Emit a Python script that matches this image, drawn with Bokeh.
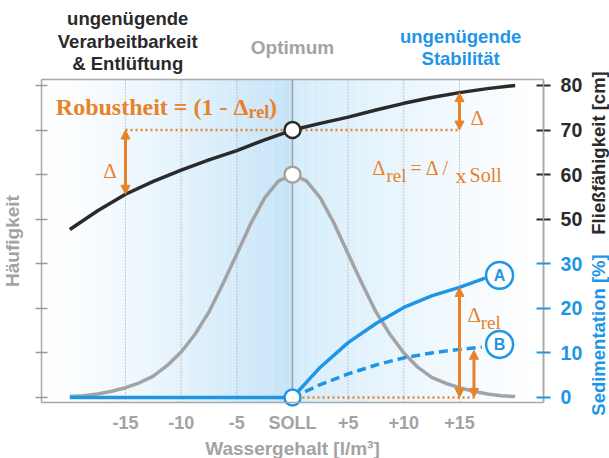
import math
from bokeh.plotting import figure
from bokeh.models import Range1d, LinearAxis, FixedTicker, Label, Arrow, NormalHead
from bokeh.embed import file_html
from bokeh.resources import INLINE

# ---------------- data ----------------
x_ticks = [-15, -10, -5, 0, 5, 10, 15]
x_tick_labels = ["-15", "-10", "-5", "SOLL", "+5", "+10", "+15"]
y_ticks = [0, 1, 2, 3, 4, 5, 6, 7]
sed_ticks = [0, 1, 2, 3]
sed_tick_labels = ["0", "10", "20", "30"]      # Sedimentation [%]
flow_ticks = [4, 5, 6, 7]
flow_tick_labels = ["50", "60", "70", "80"]    # Fließfähigkeit [cm]

# Fließfähigkeit [cm] vs. Wassergehalt
flow_x = [-20, -17.5, -15, -12.5, -10, -7.5, -5, -2.5, 0, 2.5, 5, 7.5, 10, 12.5, 15, 17.5, 20]
flow_cm = [47.7, 51.9, 55.6, 58.5, 61.0, 63.3, 65.4, 67.8, 70.0, 71.5, 72.9, 74.5, 76.0, 77.3, 78.4, 79.3, 80.0]

# Häufigkeit (relative, peak at the "60" level)
freq_x = [-20, -18.75, -17.5, -16.25, -15, -13.75, -12.5, -11.25, -10, -8.75, -7.5, -6.25, -5,
          -3.75, -2.5, -1.25, 0, 1.25, 2.5, 3.75, 5, 6.25, 7.5, 8.75, 10, 11.25, 12.5, 13.75,
          15, 16.25, 17.5, 18.75, 20]
freq = [0.02, 0.04, 0.08, 0.14, 0.22, 0.33, 0.48, 0.72, 1.02, 1.42, 1.92, 2.55, 3.22,
        3.90, 4.48, 4.86, 5.00, 4.86, 4.48, 3.90, 3.22, 2.55, 1.92, 1.42, 1.00, 0.68, 0.45, 0.32,
        0.22, 0.14, 0.08, 0.04, 0.02]

# Sedimentation [%]
base_x = [-20, 0]
base_sed = [0, 0]
sedA_x = [0, 2.5, 5, 7.5, 10, 12.5, 15, 17.3]
sedA = [0, 6.8, 12.3, 16.6, 20.2, 22.8, 24.7, 26.8]
sedB_x = [0, 2.5, 5, 7.5, 10, 12.5, 15, 17.0]
sedB = [0, 2.9, 5.3, 7.3, 8.9, 10.0, 10.8, 11.3]
markA = (18.6, 27.4)
markB = (18.6, 11.9)
arrowB = (16.3, 10.6)

# ---------------- styles ----------------
ORANGE = "#e8822a"
BLUE = "#1e96e6"
GRAY = "#a3a3a3"
FRAME = "#a8a8a8"
DARK = "#2a2a2a"
SANS = "Liberation Sans"
SERIF = "Liberation Serif"


def cm_y(v):
    return v / 10.0 - 1.0


def sed_y(v):
    return v / 10.0


# plot box (in data units) and canvas mapping
BX0, BX1 = -22.55, 22.55
BY0, BY1 = -0.112, 7.135
p = figure(width=609, height=458, x_range=Range1d(-26.228, 28.474), y_range=Range1d(-1.3686, 8.907),
           output_backend="svg", toolbar_location=None, min_border=0)
p.outline_line_color = None
p.background_fill_color = "white"
p.border_fill_color = "white"
p.xgrid.visible = False
p.ygrid.visible = False

# background gradient inside the plot box
N = 150
w = (BX1 - BX0) / N
lefts, rights, cols = [], [], []
for i in range(N):
    l = BX0 + i * w
    c = l + w / 2
    if c < 0:
        t = ((c - BX0) / (0 - BX0)) ** 1.3
        r1, g1, b1 = 196, 227, 248
    else:
        t = (1 - c / BX1) ** 1.2
        r1, g1, b1 = 212, 236, 251
    cols.append("#%02x%02x%02x" % (round(255 + (r1 - 255) * t), round(255 + (g1 - 255) * t),
                                   round(255 + (b1 - 255) * t)))
    lefts.append(l)
    rights.append(min(l + w * 1.05, BX1))
p.quad(left=lefts, right=rights, bottom=BY0, top=BY1, color=cols, line_width=0)

# vertical grid lines at the x ticks
grid_x = [t for t in x_ticks if t != 0]
p.segment(x0=grid_x, y0=[BY0] * len(grid_x), x1=grid_x, y1=[BY1] * len(grid_x),
          line_color="#9a9a9a", line_width=1, line_dash="1 2")
p.segment(x0=[0], y0=[BY0], x1=[0], y1=[BY1], line_color="#a0a0a0", line_width=1.5)

# curves
p.line(freq_x, freq, line_color=GRAY, line_width=3.5)
p.line([-15, 15], [cm_y(70), cm_y(70)], line_color=ORANGE, line_width=2.5, line_dash="2 3")
p.line([0, 16.5], [0, 0], line_color=ORANGE, line_width=2.5, line_dash="2 3")
p.line(flow_x, [cm_y(v) for v in flow_cm], line_color=DARK, line_width=3.5)
p.line(base_x, [sed_y(v) for v in base_sed], line_color=BLUE, line_width=3.5)
p.line(sedA_x, [sed_y(v) for v in sedA], line_color=BLUE, line_width=3.5)
p.line(sedB_x, [sed_y(v) for v in sedB], line_color=BLUE, line_width=3.5, line_dash="9 5")


def darrow(x, y0, y1):
    p.add_layout(Arrow(x_start=x, y_start=y0, x_end=x, y_end=y1, line_color=ORANGE, line_width=3,
                       start=NormalHead(size=9, fill_color=ORANGE, line_color=ORANGE, line_width=1),
                       end=NormalHead(size=9, fill_color=ORANGE, line_color=ORANGE, line_width=1)))


darrow(-15, cm_y(flow_cm[8]), cm_y(flow_cm[2]))
darrow(15, cm_y(flow_cm[8]), cm_y(flow_cm[14]))
darrow(15, 0, sed_y(sedA[6]))
darrow(arrowB[0], 0, sed_y(arrowB[1]))

# markers
p.scatter([0], [cm_y(70)], size=16, fill_color="white", line_color=DARK, line_width=2.5)
p.scatter([0], [5.0], size=16, fill_color="white", line_color=GRAY, line_width=2.5)
p.scatter([0], [0], size=16, fill_color="white", line_color=BLUE, line_width=2.5)
p.scatter([markA[0], markB[0]], [sed_y(markA[1]), sed_y(markB[1])], size=27,
          fill_color="white", line_color=BLUE, line_width=2.5)
for lab, (mx, my) in (("A", markA), ("B", markB)):
    p.add_layout(Label(x=mx, y=sed_y(my), text=lab, text_align="center", text_baseline="middle",
                       text_font=SANS, text_font_style="bold", text_font_size="16px", text_color=BLUE))

# ---------------- axes (fixed on the plot box) ----------------
xa = p.xaxis[0]
xa.fixed_location = BY0
xa.bounds = (BX0, BX1)
xa.ticker = FixedTicker(ticks=x_ticks)
xa.major_label_overrides = {t: s for t, s in zip(x_ticks, x_tick_labels)}
xa.major_tick_in = 0
xa.major_tick_out = 0
xa.minor_tick_line_color = None
xa.axis_line_color = FRAME
xa.axis_line_width = 1.5
xa.major_label_text_font = SANS
xa.major_label_text_font_style = "bold"
xa.major_label_text_font_size = "18px"
xa.major_label_text_color = GRAY
xa.major_label_standoff = 11
xa.axis_label = "Wassergehalt [l/m³]"
xa.axis_label_text_font = SANS
xa.axis_label_text_font_style = "bold"
xa.axis_label_text_font_size = "19px"
xa.axis_label_text_color = GRAY
xa.axis_label_standoff = 1

ta = LinearAxis(fixed_location=BY1, bounds=(BX0, BX1), ticker=FixedTicker(ticks=[]),
                major_tick_in=0, major_tick_out=0,
                minor_tick_line_color=None, axis_line_color=FRAME, axis_line_width=1.5)
p.add_layout(ta, "above")

# left (Häufigkeit) axis: unlabelled ticks, drawn as minor ticks
ya = p.yaxis[0]
ya.fixed_location = BX0
ya.bounds = (BY0, BY1)
ya.ticker = FixedTicker(ticks=[], minor_ticks=y_ticks)
ya.major_tick_in = 0
ya.major_tick_out = 0
ya.minor_tick_in = 6
ya.minor_tick_out = 6
ya.minor_tick_line_color = "#9a9a9a"
ya.minor_tick_line_width = 1.5
ya.axis_line_color = FRAME
ya.axis_line_width = 1.5
ya.axis_label = "Häufigkeit"
ya.axis_label_text_font = SANS
ya.axis_label_text_font_style = "bold"
ya.axis_label_text_font_size = "19px"
ya.axis_label_text_color = GRAY
ya.axis_label_standoff = 13


def right_axis(ticks, labels, color):
    ax = LinearAxis(fixed_location=BX1, bounds=(BY0, BY1), ticker=FixedTicker(ticks=ticks))
    ax.major_label_overrides = {t: s for t, s in zip(ticks, labels)}
    ax.major_tick_in = 7
    ax.major_tick_out = 7
    ax.major_tick_line_color = color
    ax.major_tick_line_width = 2
    ax.minor_tick_line_color = None
    ax.axis_line_color = FRAME
    ax.axis_line_width = 1.5
    ax.major_label_text_font = SANS
    ax.major_label_text_font_style = "bold"
    ax.major_label_text_font_size = "19.5px"
    ax.major_label_text_color = color
    ax.major_label_standoff = 10
    p.add_layout(ax, "right")


right_axis(flow_ticks, flow_tick_labels, DARK)
right_axis(sed_ticks, sed_tick_labels, BLUE)

# right-hand axis titles
p.add_layout(Label(x=27.53, y=5.486, text="Fließfähigkeit [cm]", angle=math.pi / 2, text_align="center",
                   text_baseline="middle", text_font=SANS, text_font_style="bold",
                   text_font_size="18.5px", text_color=DARK))
p.add_layout(Label(x=27.53, y=1.402, text="Sedimentation [%]", angle=math.pi / 2, text_align="center",
                   text_baseline="middle", text_font=SANS, text_font_style="bold",
                   text_font_size="18.5px", text_color=BLUE))


# top headings
def head(x, y, s, color, size="18.5px"):
    p.add_layout(Label(x=x, y=y, text=s, text_align="center", text_baseline="middle", text_font=SANS,
                       text_font_style="bold", text_font_size=size, text_color=color))


head(-14.8, 8.50, "ungenügende", DARK)
head(-14.8, 7.99, "Verarbeitbarkeit", DARK)
head(-14.8, 7.49, "& Entlüftung", DARK)
head(0, 7.85, "Optimum", GRAY, "19px")
head(15.1, 8.10, "ungenügende", BLUE)
head(15.1, 7.61, "Stabilität", BLUE)


# orange annotations
def otext(x, y, s, size, bold=False, align="left"):
    p.add_layout(Label(x=x, y=y, text=s, text_align=align, text_baseline="alphabetic", text_font=SERIF,
                       text_font_style="bold" if bold else "normal", text_font_size=size,
                       text_color=ORANGE))


otext(-3.95, 6.507, "Robustheit = (1 - Δ", "24px", bold=True, align="right")
otext(-3.95, 6.395, "rel", "18px", bold=True)
otext(-2.1, 6.507, ")", "24px", bold=True)

otext(-16.4, 5.09, "Δ", "21px", align="center")
otext(16.6, 6.28, "Δ", "21px", align="center")
otext(15.72, 1.84, "Δ", "21px")
otext(16.9, 1.68, "rel", "19px")

otext(7.186, 5.138, "Δ", "20px")
otext(8.443, 4.981, "rel", "19px")
otext(10.6, 5.138, "= Δ /", "20px")
otext(14.64, 4.981, "x", "22px")
otext(15.90, 4.981, "Soll", "20px")

open("out.html", "w").write(file_html(p, INLINE))
